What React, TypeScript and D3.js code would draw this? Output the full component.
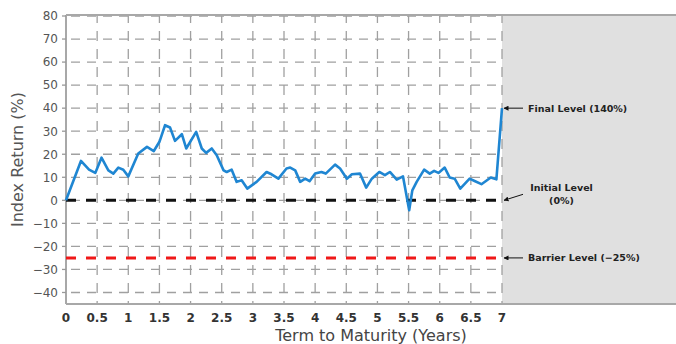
import React from "react";
import * as d3 from "d3";

// Index path over the term (years, return %)
const years = [
  0, 0.24, 0.37, 0.47, 0.57, 0.68, 0.76, 0.84, 0.92, 1.0, 1.16, 1.3, 1.41, 1.5,
  1.59, 1.67, 1.75, 1.86, 1.93, 2.09, 2.18, 2.25, 2.34, 2.42, 2.53, 2.58, 2.66,
  2.74, 2.82, 2.91, 3.06, 3.22, 3.3, 3.41, 3.54, 3.6, 3.68, 3.76, 3.84, 3.91,
  4.0, 4.1, 4.17, 4.32, 4.4, 4.51, 4.59, 4.72, 4.82, 4.91, 5.03, 5.12, 5.2,
  5.31, 5.41, 5.51, 5.56, 5.63, 5.75, 5.84, 5.91, 5.98, 6.08, 6.16, 6.24, 6.33,
  6.48, 6.56, 6.67, 6.82, 6.91, 7.0,
];
const returns = [
  0, 17.1, 13.3, 11.9, 18.5, 13, 11.6, 14.2, 13.3, 10.4, 20.3, 23.2, 21.4, 25.4,
  32.6, 31.6, 25.8, 28.7, 22.5, 29.7, 22.5, 20.6, 22.5, 19.6, 13, 12.3, 13.3,
  8, 8.7, 5.1, 8, 12.3, 11.3, 9.4, 13.8, 14.2, 13, 8, 9.4, 8.3, 11.6, 12.3,
  11.6, 15.5, 13.8, 9.4, 11.3, 11.6, 5.5, 9.4, 12.3, 10.9, 12.3, 9, 10.4, -4.3,
  4.3, 8, 13.3, 11.6, 12.8, 11.9, 14.2, 9.9, 9.4, 5.1, 9.4, 8.4, 7, 9.9, 9.1,
  40,
];

const xTicks = [0, 0.5, 1, 1.5, 2, 2.5, 3, 3.5, 4, 4.5, 5, 5.5, 6, 6.5, 7];
const yTicks = [80, 70, 60, 50, 40, 30, 20, 10, 0, -10, -20, -30, -40];

const initialLevel = 0;
const barrierLevel = -25;
const finalLevel = 40;

const W = 676;
const H = 344;
const left = 66;
const plotRight = 502;
const top = 15;
const bottom = 304;

const x = d3.scaleLinear().domain([0, 7]).range([left, plotRight]);
const y = d3.scaleLinear().domain([-45, 80]).range([bottom, 16]);

const fmtX = (d: number) => String(d);
const fmtY = (d: number) => (d < 0 ? "\u2212" + Math.abs(d) : String(d));

const linePath = d3
  .line<number>()
  .x((_, i) => x(years[i]))
  .y((d) => y(d))(returns) as string;

export default function App() {
  const font = "DejaVu Sans, sans-serif";
  return (
    <svg
      width={W}
      height={H}
      style={{ position: "absolute", left: 0, top: 0, background: "#fff" }}
      fontFamily={font}
    >
      <defs>
        <marker
          id="arrowHead"
          viewBox="0 0 10 10"
          refX="9"
          refY="5"
          markerWidth="5"
          markerHeight="5"
          orient="auto"
        >
          <path d="M0,0 L10,5 L0,10 z" fill="#111" />
        </marker>
      </defs>

      {/* shaded region beyond maturity */}
      <rect x={x(7)} y={top} width={W - x(7)} height={bottom - top} fill="#e0e0e0" />

      {/* grid */}
      {xTicks.map((t) => (
        <line
          key={"gx" + t}
          x1={x(t)}
          x2={x(t)}
          y1={top}
          y2={bottom}
          stroke="#a0a0a0"
          strokeWidth={1.3}
          strokeDasharray="10,8"
          strokeDashoffset={2}
        />
      ))}
      {yTicks.map((t) => (
        <line
          key={"gy" + t}
          x1={left}
          x2={x(7)}
          y1={y(t)}
          y2={y(t)}
          stroke="#a0a0a0"
          strokeWidth={1.3}
          strokeDasharray="9,7"
          strokeDashoffset={-5}
        />
      ))}

      {/* frame */}
      <line x1={left} x2={W} y1={top} y2={top} stroke="#a8a8a8" strokeWidth={2} />
      <line x1={left} x2={W} y1={bottom} y2={bottom} stroke="#a8a8a8" strokeWidth={2} />
      <line x1={left} x2={left} y1={top} y2={bottom} stroke="#a8a8a8" strokeWidth={2} />

      {/* y ticks */}
      {yTicks.map((t) => (
        <g key={"ty" + t}>
          <line x1={left - 4} x2={left} y1={y(t)} y2={y(t)} stroke="#999" strokeWidth={1.3} />
          <text
            x={58}
            y={y(t) + 4.3}
            textAnchor="end"
            fontSize={12}
            fill="#555"
          >
            {fmtY(t)}
          </text>
        </g>
      ))}

      {/* x ticks */}
      {xTicks.map((t) => (
        <text
          key={"tx" + t}
          x={x(t)}
          y={321.5}
          textAnchor="middle"
          fontSize={12}
          fontWeight="bold"
          fill="#333"
        >
          {fmtX(t)}
        </text>
      ))}

      {/* reference levels */}
      <line
        x1={left}
        x2={x(7)}
        y1={y(initialLevel)}
        y2={y(initialLevel)}
        stroke="#111"
        strokeWidth={3}
        strokeDasharray="10,10"
      />
      <line
        x1={left}
        x2={x(7)}
        y1={y(barrierLevel)}
        y2={y(barrierLevel)}
        stroke="#f01818"
        strokeWidth={3}
        strokeDasharray="10,10"
      />

      {/* index path */}
      <path d={linePath} fill="none" stroke="#1f86d2" strokeWidth={2.6} strokeLinejoin="round" />

      {/* annotations */}
      <line
        x1={523}
        x2={x(7) + 2}
        y1={y(finalLevel)}
        y2={y(finalLevel)}
        stroke="#111"
        strokeWidth={1}
        markerEnd="url(#arrowHead)"
      />
      <text x={528} y={y(finalLevel) + 3.5} fontSize={9.5} fontWeight="bold" fill="#222">
        Final Level (140%)
      </text>

      <line
        x1={523}
        x2={x(7) + 2}
        y1={y(initialLevel) - 6}
        y2={y(initialLevel)}
        stroke="#111"
        strokeWidth={1}
        markerEnd="url(#arrowHead)"
      />
      <text x={561.5} y={191} fontSize={9.5} fontWeight="bold" fill="#222" textAnchor="middle">
        Initial Level
      </text>
      <text x={561.5} y={203.5} fontSize={9.5} fontWeight="bold" fill="#222" textAnchor="middle">
        (0%)
      </text>

      <line
        x1={523}
        x2={x(7) + 2}
        y1={y(barrierLevel)}
        y2={y(barrierLevel)}
        stroke="#111"
        strokeWidth={1}
        markerEnd="url(#arrowHead)"
      />
      <text x={528} y={y(barrierLevel) + 3.5} fontSize={9.5} fontWeight="bold" fill="#222">
        Barrier Level (−25%)
      </text>

      {/* axis titles */}
      <text
        transform={`translate(23, ${(top + bottom) / 2}) rotate(-90)`}
        textAnchor="middle"
        fontSize={16}
        fill="#555"
      >
        Index Return (%)
      </text>
      <text x={(left + W) / 2} y={341} textAnchor="middle" fontSize={16} fill="#444">
        Term to Maturity (Years)
      </text>
    </svg>
  );
}
